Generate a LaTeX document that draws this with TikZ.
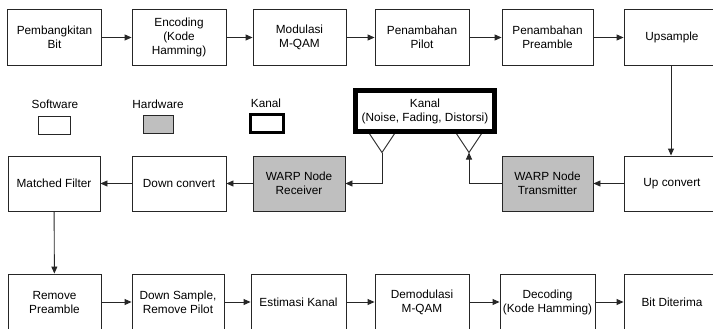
\documentclass[tikz,border=0pt]{standalone}
\usepackage{fontspec}
\setmainfont{Liberation Sans}
\usetikzlibrary{arrows.meta}
\tikzset{
  blk/.style={draw=black!85, line width=0.9pt, fill=white, minimum width=94pt, minimum height=56pt,
    align=center, inner sep=1pt, font=\fontsize{11.8}{14}\selectfont},
  hw/.style={blk, fill=black!25},
  chan/.style={blk, line width=4.6pt, minimum width=139pt, minimum height=41pt},
  lbl/.style={font=\fontsize{11.8}{14}\selectfont, inner sep=0pt},
  flow/.style={draw=black!85, line width=0.9pt, -{Triangle[length=7pt,width=6pt]}},
  wire/.style={draw=black!85, line width=0.9pt},
}
\begin{document}
\begin{tikzpicture}[x=1pt, y=-1pt]
\useasboundingbox (0,0) rectangle (713,329);
\begin{scope}
\clip (0,0) rectangle (713,329);
% transmitter chain
\node[blk] (gen) at (54.5,37.5) {Pembangkitan\\Bit};
\node[blk] (enc) at (179,37.5) {Encoding\\(Kode\\Hamming)};
\node[blk, minimum width=93pt] (mod) at (299.5,37.5) {Modulasi\\M-QAM};
\node[blk] (pil) at (422,37.5) {Penambahan\\Pilot};
\node[blk, minimum width=91pt] (pre) at (547.5,37.5) {Penambahan\\Preamble};
\node[blk, minimum width=96pt] (ups) at (672,37.5) {Upsample};
% legend
\node[lbl] (lsw) at (55,104) {Software};
\node[lbl] (lhw) at (158,104) {Hardware};
\node[lbl] (lch) at (266,103) {Kanal};
\node[draw=black!85, line width=0.9pt, minimum width=32pt, minimum height=18pt, inner sep=0pt] (bsw) at (54,125) {};
\node[draw=black!85, line width=0.9pt, fill=black!25, minimum width=30pt, minimum height=18pt, inner sep=0pt] (bhw) at (158,124) {};
\node[draw=black, line width=3pt, minimum width=33pt, minimum height=18pt, inner sep=0pt] (bch) at (267,123.5) {};
% antennas hanging below the channel
\coordinate (rxant) at (382,152.5);
\coordinate (txant) at (469,152.5);
\draw[wire] (367,130) -- (rxant) -- (397,130);
\draw[wire] (454,130) -- (txant) -- (484,130);
% channel
\node[chan, draw=black] (kan) at (425,111) {Kanal\\(Noise, Fading, Distorsi)};
% middle row
\node[blk, minimum width=92pt, minimum height=55pt] (mf) at (54,183.5) {Matched Filter};
\node[blk, minimum height=55pt] (dc) at (179,183.5) {Down convert};
\node[hw, minimum width=92pt, minimum height=55pt] (rx) at (299,183.5) {WARP Node\\Receiver};
\node[hw, minimum width=91pt, minimum height=55pt] (tx) at (547.5,183.5) {WARP Node\\Transmitter};
\node[blk, minimum width=96pt, minimum height=55pt] (uc) at (672,183.5) {Up convert};
% receiver chain
\node[blk, minimum width=93pt] (rp) at (54.5,302) {Remove\\Preamble};
\node[blk, minimum width=92pt] (ds) at (178,302) {Down Sample,\\Remove Pilot};
\node[blk, minimum width=95pt] (est) at (298.5,302) {Estimasi Kanal};
\node[blk] (dem) at (422,302) {Demodulasi\\M-QAM};
\node[blk, minimum width=95pt] (dec) at (547.5,302) {Decoding\\(Kode Hamming)};
\node[blk, minimum width=96pt] (bit) at (672,302) {Bit Diterima};
\end{scope}
% connectors
\draw[flow] (gen) -- (enc);
\draw[flow] (enc) -- (mod);
\draw[flow] (mod) -- (pil);
\draw[flow] (pil) -- (pre);
\draw[flow] (pre) -- (ups);
\draw[flow] (ups.south -| 671,0) -- (uc.north -| 671,0);
\draw[flow] (uc) -- (tx);
\draw[flow] (tx.west) -| (txant);
\draw[flow] (rxant) |- (rx.east);
\draw[flow] (rx) -- (dc);
\draw[flow] (dc) -- (mf);
\draw[flow] (mf) -- (rp);
\draw[flow] (rp) -- (ds);
\draw[flow] (ds) -- (est);
\draw[flow] (est) -- (dem);
\draw[flow] (dem) -- (dec);
\draw[flow] (dec) -- (bit);
\end{tikzpicture}
\end{document}
